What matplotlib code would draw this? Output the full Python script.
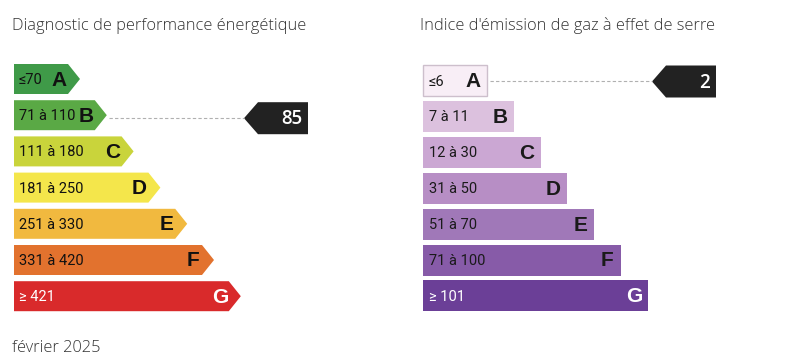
import matplotlib.pyplot as plt
from matplotlib.patches import Polygon

plt.rcParams['font.family'] = ['Open Sans', 'DejaVu Sans']

# data
classes = ["A", "B", "C", "D", "E", "F", "G"]
dpe_ranges = ["≤70", "71 à 110", "111 à 180", "181 à 250", "251 à 330", "331 à 420", "≥ 421"]
dpe_colors = ["#3f9a48", "#5aa945", "#c9d43b", "#f4e64b", "#f1b93f", "#e2722e", "#d92a2b"]
dpe_value = 85
dpe_class = "B"

ges_ranges = ["≤6", "7 à 11", "12 à 30", "31 à 50", "51 à 70", "71 à 100", "≥ 101"]
ges_colors = ["#f8eef6", "#dcc1de", "#cba7d3", "#b78ec5", "#a078b8", "#875ba8", "#6b3f97"]
ges_value = 2
ges_class = "A"

title_dpe = "Diagnostic de performance énergétique"
title_ges = "Indice d'émission de gaz à effet de serre"
date_txt = "février 2025"

narrow = ['Roboto', 'DejaVu Sans']
bold = ['Liberation Sans', 'DejaVu Sans']

fig = plt.figure(figsize=(8, 3.61), dpi=100)
ax = fig.add_axes([0, 0, 1, 1])
ax.set_xlim(0, 800)
ax.set_ylim(361, 0)
ax.axis('off')


def marker(tip_x, yc, value):
    h = 32
    pts = [(tip_x, yc), (tip_x + 14, yc - h / 2), (tip_x + 64, yc - h / 2),
           (tip_x + 64, yc + h / 2), (tip_x + 14, yc + h / 2)]
    ax.add_patch(Polygon(pts, closed=True, fc="#222222", ec="none"))
    ax.text(tip_x + 58, yc + 1, str(value), color="white", fontsize=13.5,
            fontweight="semibold", ha="right", va="center")


# DPE scale (arrows)
x0 = 14
for i, (c, r, col) in enumerate(zip(classes, dpe_ranges, dpe_colors)):
    yc = 79 + 36.2 * i
    h = 30
    end = 68 + 26.8 * i
    pts = [(x0, yc - h / 2), (end, yc - h / 2), (end + 12, yc),
           (end, yc + h / 2), (x0, yc + h / 2)]
    ax.add_patch(Polygon(pts, closed=True, fc=col, ec="none"))
    tc = "white" if c == "G" else "#111111"
    ax.text(x0 + 5, yc + 1, r, fontsize=10.5, family=narrow, color=tc,
            ha="left", va="center")
    ax.text(end - 9, yc + 1, c, fontsize=15, family=bold, fontweight="bold",
            color=tc, ha="center", va="center")
    if c == dpe_class:
        ax.plot([end + 14, 244], [yc + 3, yc + 3], ls=(0, (3, 2)), lw=0.8,
                color="#b0b0b0")
        marker(244, yc + 3, dpe_value)

# GES scale (bars)
x1 = 423
for i, (c, r, col) in enumerate(zip(classes, ges_ranges, ges_colors)):
    yc = 80.5 + 35.9 * i
    h = 31
    end = 487 + 26.8 * i
    ec = "#cdbfcc" if i == 0 else "none"
    ax.add_patch(plt.Rectangle((x1, yc - h / 2), end - x1, h, fc=col, ec=ec, lw=1))
    tc = "white" if c == "G" else "#1a1a1a"
    ax.text(x1 + 6, yc + 1, r, fontsize=10.5, family=narrow, color=tc,
            ha="left", va="center")
    ax.text(end - 14, yc + 1, c, fontsize=15, family=bold, fontweight="bold",
            color=tc, ha="center", va="center")
    if c == ges_class:
        ax.plot([end + 3, 652], [yc, yc], ls=(0, (3, 2)), lw=0.8,
                color="#b0b0b0")
        marker(652, yc + 1, ges_value)

ax.text(12, 26, title_dpe, fontsize=11.8, fontweight="light", color="#333333",
        ha="left", va="center")
ax.text(420, 26, title_ges, fontsize=11.8, fontweight="light", color="#333333",
        ha="left", va="center")
ax.text(12, 348, date_txt, fontsize=11.8, fontweight="light", color="#333333",
        ha="left", va="center")

fig.savefig("out.png", dpi=100)
